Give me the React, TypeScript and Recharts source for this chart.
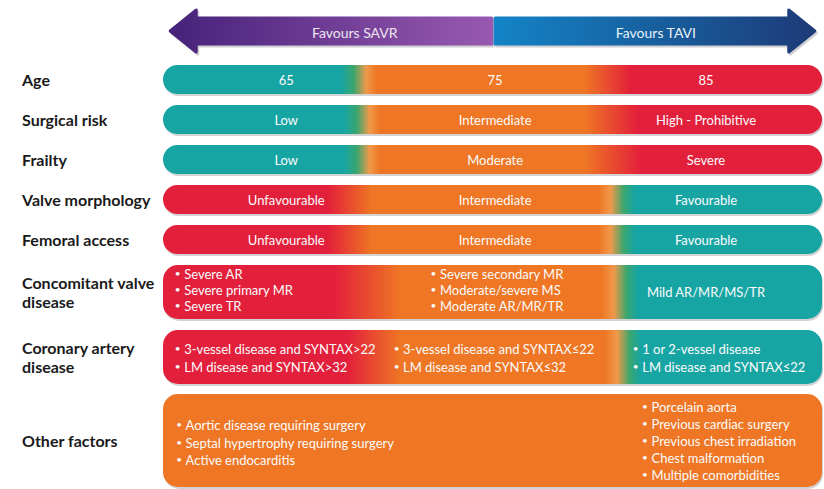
import { ComposedChart, XAxis, YAxis, ReferenceArea, Scatter } from "recharts";

// rows of the decision panel (y in layout units, 1 unit = 10px)
const ROW_LABELS = [
  "Age",
  "Surgical risk",
  "Frailty",
  "Valve morphology",
  "Femoral access",
  "Concomitant valve\ndisease",
  "Coronary artery\ndisease",
  "Other factors",
];
const ROW_TOP = [6.5, 10.5, 14.5, 18.5, 22.5, 26.5, 33.0, 39.4];
const ROW_BOTTOM = [9.4, 13.4, 17.4, 21.4, 25.4, 31.9, 38.4, 48.7];

// colour of the three zones per row and where they blend (x in % of panel)
const ROW_ZONES = [
  ["teal", "orange", "red"],
  ["teal", "orange", "red"],
  ["teal", "orange", "red"],
  ["red", "orange", "teal"],
  ["red", "orange", "teal"],
  ["red", "orange", "teal"],
  ["red", "orange", "teal"],
  ["orange", "orange", "orange"],
];
const ROW_BLENDS = [
  [27, 32.5, 64, 71],
  [27.5, 33, 64, 72],
  [27.5, 33, 64, 72.5],
  [25, 31.7, 66, 71.6],
  [25, 31.7, 66, 71.6],
  [26, 36, 66.5, 72],
  [28, 36, 67, 72.5],
  [30, 35, 65, 70],
];

// simple rows: three centred words
const SIMPLE_TEXT = [
  ["65", "75", "85"],
  ["Low", "Intermediate", "High - Prohibitive"],
  ["Low", "Moderate", "Severe"],
  ["Unfavourable", "Intermediate", "Favourable"],
  ["Unfavourable", "Intermediate", "Favourable"],
];
const SIMPLE_X = [18.7, 50.4, 82.4];

const CONC_LEFT = ["Severe AR", "Severe primary MR", "Severe TR"];
const CONC_MID = ["Severe secondary MR", "Moderate/severe MS", "Moderate AR/MR/TR"];
const CONC_RIGHT = "Mild AR/MR/MS/TR";
const CAD_LEFT = ["3-vessel disease and SYNTAX>22", "LM disease and SYNTAX>32"];
const CAD_MID = ["3-vessel disease and SYNTAX≤22", "LM disease and SYNTAX≤32"];
const CAD_RIGHT = ["1 or 2-vessel disease", "LM disease and SYNTAX≤22"];
const OTHER_LEFT = [
  "Aortic disease requiring surgery",
  "Septal hypertrophy requiring surgery",
  "Active endocarditis",
];
const OTHER_RIGHT = [
  "Porcelain aorta",
  "Previous cardiac surgery",
  "Previous chest irradiation",
  "Chest malformation",
  "Multiple comorbidities",
];

const ARROW_TEXT = ["Favours SAVR", "Favours TAVI"];
const ARROW_X = [
  [1.1, 49.9],
  [50.4, 98.9],
];
const ARROW_Y = [1.0, 5.2];

const COLORS: Record<string, string> = {
  teal: "#17a5a4",
  orange: "#ee7624",
  red: "#e3203b",
};

const ROW_CENTERS = ROW_TOP.map((t, i) => (t + ROW_BOTTOM[i]) / 2);

type TextPoint = {
  x: number;
  y: number;
  text: string;
  anchor: string;
  bullet?: boolean;
  size?: number;
  fill?: string;
};

const textPoints: TextPoint[] = [];
SIMPLE_TEXT.forEach((row, r) =>
  row.forEach((t, c) =>
    textPoints.push({ x: SIMPLE_X[c], y: ROW_CENTERS[r], text: t, anchor: "middle" })
  )
);
const lists = [
  { items: CONC_LEFT, x: 1.8, y0: 27.4, step: 1.6 },
  { items: CONC_MID, x: 40.6, y0: 27.4, step: 1.6 },
  { items: CAD_LEFT, x: 1.8, y0: 34.9, step: 1.8 },
  { items: CAD_MID, x: 35.0, y0: 34.9, step: 1.8 },
  { items: CAD_RIGHT, x: 71.3, y0: 34.9, step: 1.8 },
  { items: OTHER_LEFT, x: 2.0, y0: 42.5, step: 1.75 },
  { items: OTHER_RIGHT, x: 72.7, y0: 40.7, step: 1.7 },
];
lists.forEach((l) =>
  l.items.forEach((t, i) =>
    textPoints.push({ x: l.x, y: l.y0 + i * l.step, text: t, anchor: "start", bullet: true })
  )
);
textPoints.push({ x: SIMPLE_X[2], y: 29.2, text: CONC_RIGHT, anchor: "middle" });
textPoints.push({ x: 29.1, y: 3.2, text: ARROW_TEXT[0], anchor: "middle", size: 14, fill: "#ece4f1" });
textPoints.push({ x: 74.8, y: 3.2, text: ARROW_TEXT[1], anchor: "middle", size: 14, fill: "#e6f0f7" });

function zoneStops(row: number) {
  const [a, b, c] = ROW_ZONES[row].map((z) => COLORS[z]);
  const [a1, a2, b1, b2] = ROW_BLENDS[row];
  const mix = (from: string, to: string, s: number, e: number, key: string) => {
    const stops = [<stop key={key + "s"} offset={`${s}%`} stopColor={from} />];
    const tealSide = from === COLORS.teal || to === COLORS.teal;
    if (tealSide) {
      const toTeal = to === COLORS.teal;
      const p1 = s + (e - s) * 0.35;
      const p2 = s + (e - s) * 0.7;
      stops.push(
        <stop key={key + "1"} offset={`${p1}%`} stopColor={toTeal ? "#f0994a" : "#3aa66e"} />,
        <stop key={key + "2"} offset={`${p2}%`} stopColor={toTeal ? "#3aa66e" : "#f0994a"} />
      );
    }
    stops.push(<stop key={key + "e"} offset={`${e}%`} stopColor={to} />);
    return stops;
  };
  return [...mix(a, b, a1, a2, "a"), ...mix(b, c, b1, b2, "b")];
}

function RowBar(props: any) {
  const { x, y, width, height, row } = props;
  const id = `rowGrad${row}`;
  const r = Math.min(15, height / 2);
  return (
    <g>
      <defs>
        <linearGradient id={id} x1="0" y1="0" x2="1" y2="0">
          {zoneStops(row)}
        </linearGradient>
      </defs>
      <rect x={x + 1} y={y + 2} width={width} height={height} rx={r} fill="#d3d3d6" />
      <rect x={x} y={y} width={width} height={height} rx={r} fill={`url(#${id})`} />
    </g>
  );
}

function Arrow(props: any) {
  const { x, y, width, height, dir } = props;
  const head = 26;
  const t = y + height * 0.19;
  const b = y + height * 0.81;
  const m = y + height / 2;
  const pts =
    dir === "left"
      ? [[x, m], [x + head, y], [x + head, t], [x + width, t], [x + width, b], [x + head, b], [x + head, y + height]]
      : [[x + width, m], [x + width - head, y], [x + width - head, t], [x, t], [x, b], [x + width - head, b], [x + width - head, y + height]];
  const id = `arrowGrad${dir}`;
  const stops = dir === "left" ? ["#47227a", "#9859b0"] : ["#1384c6", "#1d3a77"];
  const p = pts.map((q) => q.join(",")).join(" ");
  const shadow = pts.map((q) => `${q[0] + 1.5},${q[1] + 2}`).join(" ");
  return (
    <g>
      <defs>
        <linearGradient id={id} x1="0" y1="0" x2="1" y2="0">
          <stop offset="0%" stopColor={stops[0]} />
          <stop offset="100%" stopColor={stops[1]} />
        </linearGradient>
      </defs>
      <polygon points={shadow} fill="#cfcfd4" stroke="#cfcfd4" strokeWidth={3} strokeLinejoin="round" />
      <polygon points={p} fill={`url(#${id})`} stroke={`url(#${id})`} strokeWidth={3} strokeLinejoin="round" />
    </g>
  );
}

function CellText(props: any) {
  const { cx, cy, payload } = props;
  return (
    <text
      x={cx}
      y={cy}
      textAnchor={payload.anchor}
      dominantBaseline="central"
      fill={payload.fill ?? "#fbfbfb"}
      fontSize={payload.size ?? 13}
      fontFamily="Lato, sans-serif"
    >
      {payload.bullet && (
        <tspan fontSize={10} dy={-1}>
          {"• "}
        </tspan>
      )}
      {payload.bullet ? (
        <tspan dy={1} dx={1}>
          {payload.text}
        </tspan>
      ) : (
        payload.text
      )}
    </text>
  );
}

function RowLabel(props: any) {
  const { y, payload } = props;
  const idx = ROW_CENTERS.findIndex((c) => Math.abs(c - payload.value) < 1e-6);
  if (idx < 0) return null;
  const lines = ROW_LABELS[idx].split("\n");
  return (
    <text x={22} y={y} fontSize={16} fontWeight={700} fill="#1a1a1a" fontFamily="Lato, sans-serif">
      {lines.map((l, i) => (
        <tspan key={i} x={22} y={y + (i - (lines.length - 1) / 2) * 19.5} dominantBaseline="central">
          {l}
        </tspan>
      ))}
    </text>
  );
}

export default function App() {
  return (
    <div style={{ position: "absolute", left: 0, top: 0, background: "#fff" }}>
      <ComposedChart width={824} height={489} margin={{ top: 0, right: 2, bottom: 0, left: 0 }}>
        <XAxis type="number" dataKey="x" domain={[0, 100]} hide />
        <YAxis
          type="number"
          dataKey="y"
          domain={[0, 48.9]}
          reversed
          width={163}
          ticks={ROW_CENTERS}
          interval={0}
          axisLine={false}
          tickLine={false}
          tick={<RowLabel />}
        />
        {ARROW_X.map((ax, i) => (
          <ReferenceArea
            key={"arrow" + i}
            x1={ax[0]}
            x2={ax[1]}
            y1={ARROW_Y[0]}
            y2={ARROW_Y[1]}
            shape={(p: any) => <Arrow {...p} dir={i === 0 ? "left" : "right"} />}
          />
        ))}
        {ROW_TOP.map((top, i) => (
          <ReferenceArea
            key={"row" + i}
            x1={0}
            x2={100}
            y1={top}
            y2={ROW_BOTTOM[i]}
            shape={(p: any) => <RowBar {...p} row={i} />}
          />
        ))}
        <Scatter data={textPoints} shape={CellText} isAnimationActive={false} />
      </ComposedChart>
    </div>
  );
}
